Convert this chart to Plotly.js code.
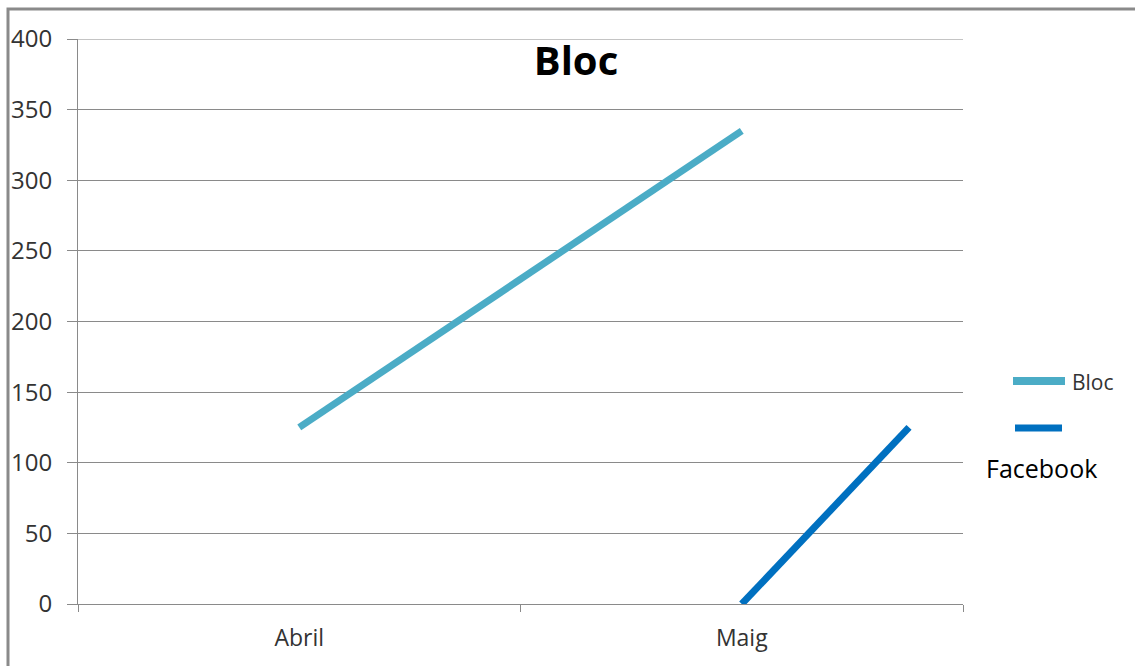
<!DOCTYPE html>
<html>
<head>
<meta charset="utf-8">
<script src="https://cdn.plot.ly/plotly-3.0.1.min.js"></script>
<style>
  html, body { margin: 0; padding: 0; background: #ffffff; }
  #chart { width: 1135px; height: 666px; }
</style>
</head>
<body>
<div id="chart"></div>
<script>
// ---- data ----
const categories = ['Abril', 'Maig'];
const categoryPos = [0, 1];
const blocValues = [125, 335];
// Facebook series as drawn: starts at Maig (0) and ends past it (125)
const facebookX = [1, 1.378];
const facebookValues = [0, 125];
const yTicks = [0, 50, 100, 150, 200, 250, 300, 350, 400];

const FONT = '"Open Sans", "Liberation Sans", sans-serif';
const GRAY = '#8a8a8a';

const traces = [
  {
    x: categoryPos, y: blocValues, name: 'Bloc', type: 'scatter', mode: 'lines',
    line: { color: '#4bacc6', width: 7 }, hoverinfo: 'skip'
  },
  {
    x: facebookX, y: facebookValues, name: 'Facebook', type: 'scatter', mode: 'lines',
    line: { color: '#0070c0', width: 7 }, hoverinfo: 'skip'
  }
];

// plot area: x 78..963 px, y 39..604 px
const L = 78, R = 963, T = 39, B = 604;
const px = v => (v - L) / (R - L);
const py = v => (B - v) / (B - T);

const layout = {
  width: 1135, height: 666,
  margin: { l: L, r: 1135 - R, t: T, b: 666 - B, pad: 0 },
  paper_bgcolor: '#ffffff', plot_bgcolor: '#ffffff',
  showlegend: false,
  font: { family: FONT, color: '#333333', size: 23 },
  title: {
    text: '<b>Bloc</b>',
    font: { family: FONT, size: 40, color: '#000000' },
    xref: 'paper', yref: 'paper',
    x: px(576), y: py(61), xanchor: 'center', yanchor: 'middle'
  },
  xaxis: {
    range: [-0.5, 1.5], fixedrange: true,
    tickmode: 'array', tickvals: categoryPos, ticktext: categories,
    ticks: '', showgrid: false, zeroline: false,
    showline: true, linecolor: GRAY, linewidth: 1,
    tickfont: { family: FONT, size: 23, color: '#333333' },
    ticklabelstandoff: 13,
    minor: { tickmode: 'array', tickvals: [-0.5, 0.5, 1.5], ticks: 'outside', ticklen: 7, tickcolor: GRAY, tickwidth: 1, showgrid: false }
  },
  yaxis: {
    range: [0, 400], fixedrange: true,
    tickmode: 'array', tickvals: yTicks,
    ticks: 'outside', ticklen: 10, tickcolor: GRAY, tickwidth: 1,
    showgrid: true, gridcolor: GRAY, gridwidth: 1,
    zeroline: false, showline: true, linecolor: GRAY, linewidth: 1,
    tickfont: { family: FONT, size: 24, color: '#333333' },
    ticklabelstandoff: 10
  },
  shapes: [
    // outer chart border
    { type: 'rect', xref: 'paper', yref: 'paper', layer: 'below',
      x0: px(8), x1: px(1145), y0: py(680), y1: py(9),
      line: { color: GRAY, width: 3 }, fillcolor: 'rgba(0,0,0,0)' },
    // top gridline (at the range edge)
    { type: 'line', xref: 'paper', yref: 'y', layer: 'below',
      x0: 0, x1: 1, y0: yTicks[yTicks.length - 1], y1: yTicks[yTicks.length - 1],
      line: { color: GRAY, width: 1 } },
    // legend samples
    { type: 'line', xref: 'paper', yref: 'paper',
      x0: px(1013), x1: px(1065), y0: py(381), y1: py(381),
      line: { color: '#4bacc6', width: 8 } },
    { type: 'line', xref: 'paper', yref: 'paper',
      x0: px(1015), x1: px(1062), y0: py(428), y1: py(428),
      line: { color: '#0070c0', width: 7 } }
  ],
  annotations: [
    { xref: 'paper', yref: 'paper', x: px(1070), y: py(382), xanchor: 'left', yanchor: 'middle',
      text: 'Bloc', showarrow: false, font: { family: FONT, size: 21, color: '#333333' } },
    { xref: 'paper', yref: 'paper', x: px(984), y: py(468), xanchor: 'left', yanchor: 'middle',
      text: 'Facebook', showarrow: false, font: { family: FONT, size: 25, color: '#000000' } }
  ]
};

Plotly.newPlot('chart', traces, layout, { displayModeBar: false, staticPlot: true });
</script>
</body>
</html>
